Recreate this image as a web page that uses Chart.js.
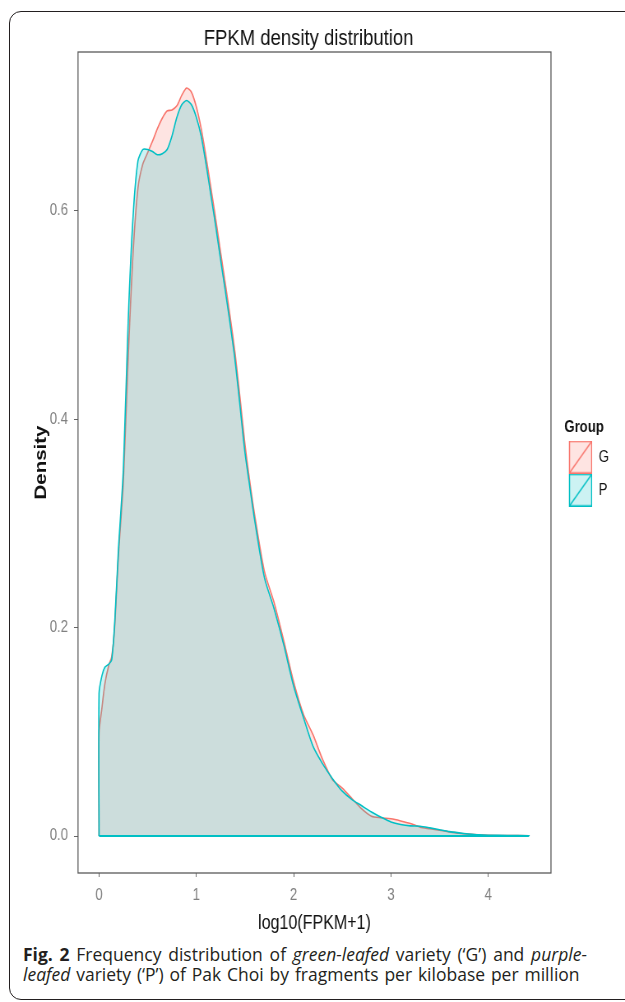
<!DOCTYPE html>
<html lang="en">
<head>
<meta charset="UTF-8">
<title>FPKM density distribution</title>
<script src="https://cdn.jsdelivr.net/npm/chart.js"></script>
<style>
  body { margin: 0; background: #fff; width: 625px; height: 1002px; overflow: hidden; position: relative; }
  #frame { position: absolute; left: 9px; top: 11px; width: 640px; height: 987px; border: 1.5px solid #231f20; border-radius: 12px; }
  #chartBox { position: absolute; left: 0; top: 0; width: 625px; height: 935px; }
  #grafico { width: 625px; height: 935px; }
  #caption { position: absolute; left: 23px; top: 944px; width: 700px; font-family: 'Open Sans', sans-serif; font-size: 17.5px; line-height: 19px; color: #231f20; transform: scale(1, 1.05); transform-origin: 0 0; white-space: nowrap; }
  #caption b { font-weight: 700; }
  #caption .linha1 { word-spacing: 2.2px; }
  #caption .linha2 { word-spacing: 1.3px; }
</style>
</head>
<body>
<div id="frame"></div>
<div id="chartBox"><canvas id="grafico" width="760" height="935" style="width:625px;height:935px"></canvas></div>
<div id="caption">
  <span class="linha1"><b>Fig. 2</b> Frequency distribution of <i>green-leafed</i> variety (‘G’) and <i>purple-</i></span><br>
  <span class="linha2"><i>leafed</i> variety (‘P’) of Pak Choi by fragments per kilobase per million</span>
</div>

<script>
  // valores
  const grupos = ['G', 'P'];
  const xTicks = [0, 1, 2, 3, 4];
  const yTicks = [0, 0.2, 0.4, 0.6];
  const xGrid = [0, 0.03, 0.06, 0.1, 0.13, 0.16, 0.2, 0.25, 0.3, 0.35,
    0.4, 0.45, 0.5, 0.55, 0.6, 0.65, 0.7, 0.75, 0.8, 0.85,
    0.9, 0.95, 1.0, 1.05, 1.1, 1.15, 1.2, 1.25, 1.3, 1.35,
    1.4, 1.45, 1.5, 1.55, 1.6, 1.7, 1.8, 1.9, 2.0, 2.1,
    2.2, 2.3, 2.4, 2.5, 2.6, 2.7, 2.8, 2.9, 3.0, 3.1,
    3.2, 3.3, 3.4, 3.5, 3.6, 3.7, 3.8, 3.9, 4.0, 4.2, 4.42];
  const densidadeG = [0.099, 0.123, 0.146, 0.164, 0.172, 0.200, 0.270, 0.340, 0.460, 0.560,
    0.622, 0.645, 0.656, 0.667, 0.679, 0.689, 0.696, 0.697, 0.701, 0.711,
    0.718, 0.714, 0.700, 0.679, 0.652, 0.622, 0.592, 0.560, 0.529, 0.497,
    0.462, 0.420, 0.376, 0.340, 0.308, 0.254, 0.224, 0.187, 0.148, 0.117,
    0.097, 0.073, 0.054, 0.046, 0.036, 0.026, 0.019, 0.0175, 0.0165, 0.0145,
    0.012, 0.0085, 0.007, 0.0055, 0.004, 0.0027, 0.0018, 0.0011, 0.0007, 0.0004, 0.0003];
  const densidadeP = [0.137, 0.154, 0.162, 0.165, 0.169, 0.203, 0.276, 0.352, 0.495, 0.595,
    0.648, 0.659, 0.659, 0.657, 0.654, 0.655, 0.659, 0.672, 0.690, 0.702,
    0.706, 0.702, 0.690, 0.672, 0.645, 0.615, 0.585, 0.553, 0.522, 0.490,
    0.455, 0.412, 0.368, 0.335, 0.303, 0.248, 0.218, 0.183, 0.144, 0.114,
    0.086, 0.069, 0.055, 0.043, 0.035, 0.029, 0.023, 0.018, 0.0135, 0.011,
    0.0097, 0.0094, 0.0078, 0.006, 0.0042, 0.003, 0.002, 0.0012, 0.0008, 0.0004, 0.0003];

  const coresLinha = ['#F8766D', '#00BFC4'];
  const coresFill = ['rgba(248, 118, 109, 0.2)', 'rgba(0, 191, 196, 0.2)'];
  const fonte = "'Liberation Sans', Arial, sans-serif";

  // o canvas tem 760px de largura e é mostrado com 625px (texto mais estreito, como no original)
  const escalaX = 625 / 760;
  const h = px => px / escalaX;

  // curva da densidade, começando e terminando no zero
  function montarCurva(valores) {
    const pts = [{ x: xGrid[0], y: 0 }];
    xGrid.forEach((x, i) => pts.push({ x: x, y: valores[i] }));
    pts.push({ x: xGrid[xGrid.length - 1], y: 0 });
    return pts;
  }

  // chave da legenda: caixa com diagonal
  function chaveLegenda(i) {
    const c = document.createElement('canvas');
    c.width = 33; c.height = 33;
    const ctx = c.getContext('2d');
    ctx.fillStyle = coresFill[i];
    ctx.fillRect(5.5, 0.75, 27, 31.5);
    ctx.strokeStyle = coresLinha[i];
    ctx.lineWidth = 1.5;
    ctx.strokeRect(5.5, 0.75, 27, 31.5);
    ctx.beginPath();
    ctx.moveTo(5.5, 32.25);
    ctx.lineTo(32.5, 0.75);
    ctx.stroke();
    return c;
  }
  const chaves = grupos.map((g, i) => chaveLegenda(i));

  const bordaPainel = {
    id: 'bordaPainel',
    afterDatasetsDraw(chart) {
      const a = chart.chartArea;
      const ctx = chart.ctx;
      ctx.save();
      ctx.strokeStyle = '#5a5a5a';
      ctx.lineWidth = 1.3;
      ctx.strokeRect(a.left, a.top, a.right - a.left, a.bottom - a.top);
      ctx.restore();
    }
  };

  const datasets = grupos.map((g, i) => ({
    label: g,
    data: montarCurva(i === 0 ? densidadeG : densidadeP),
    showLine: true,
    borderColor: coresLinha[i],
    backgroundColor: coresFill[i],
    borderWidth: 1.6,
    pointRadius: 0,
    tension: 0.25,
    fill: 'origin',
    order: grupos.length - i + 1
  }));
  // linha de base do polígono
  datasets.push({
    label: 'base',
    data: [{ x: xGrid[0], y: 0 }, { x: xGrid[xGrid.length - 1], y: 0 }],
    showLine: true,
    borderColor: coresLinha[1],
    borderWidth: 1.8,
    pointRadius: 0,
    fill: false,
    order: 0
  });

  new Chart(document.getElementById('grafico'), {
    type: 'scatter',
    data: { datasets: datasets },
    plugins: [bordaPainel],
    options: {
      responsive: false,
      animation: false,
      layout: { padding: { left: 0, right: 9.6, top: 0, bottom: 0 } },
      plugins: {
        tooltip: { enabled: false },
        title: {
          display: true,
          text: 'FPKM density distribution',
          color: '#111',
          font: { family: fonte, size: 22.5, weight: 'normal' },
          padding: { top: 25, bottom: 0 }
        },
        legend: {
          position: 'right',
          align: 'center',
          title: {
            display: true,
            text: 'Group',
            color: '#111',
            position: 'center',
            font: { family: fonte, size: 16, weight: 'bold' },
            padding: { top: 0, bottom: -7 }
          },
          labels: {
            usePointStyle: true,
            pointStyleWidth: 33,
            padding: 17,
            color: '#111',
            font: { family: fonte, size: 16 },
            generateLabels: () => grupos.map((g, i) => ({
              text: g,
              pointStyle: chaves[i],
              fillStyle: coresFill[i],
              strokeStyle: coresLinha[i],
              lineWidth: 1,
              hidden: false,
              datasetIndex: i
            }))
          }
        }
      },
      scales: {
        x: {
          type: 'linear',
          min: -0.216,
          max: 4.645,
          afterBuildTicks: s => { s.ticks = xTicks.map(v => ({ value: v })); },
          afterFit: s => { s.height = 62; },
          grid: { display: true, drawOnChartArea: false, drawTicks: true, tickLength: 4, color: '#666' },
          border: { display: false },
          ticks: { color: '#808080', padding: 9, font: { family: fonte, size: 16 }, callback: v => String(v) },
          title: { display: true, text: 'log10(FPKM+1)', color: '#111', font: { family: fonte, size: 19.5 }, padding: { top: 4, bottom: 0 } }
        },
        y: {
          type: 'linear',
          min: -0.0355,
          max: 0.7526,
          afterBuildTicks: s => { s.ticks = yTicks.map(v => ({ value: v })); },
          afterFit: s => { s.width = h(78); },
          grid: { display: true, drawOnChartArea: false, drawTicks: true, tickLength: h(4), color: '#666' },
          border: { display: false },
          ticks: { color: '#808080', padding: h(6), font: { family: fonte, size: 16 }, callback: v => v.toFixed(1) },
          title: { display: true, text: 'Density', color: '#111', font: { family: fonte, size: 20.5, weight: 'bold' }, padding: { top: h(41) - 12.3, bottom: 0 } }
        }
      }
    }
  });
</script>
</body>
</html>
